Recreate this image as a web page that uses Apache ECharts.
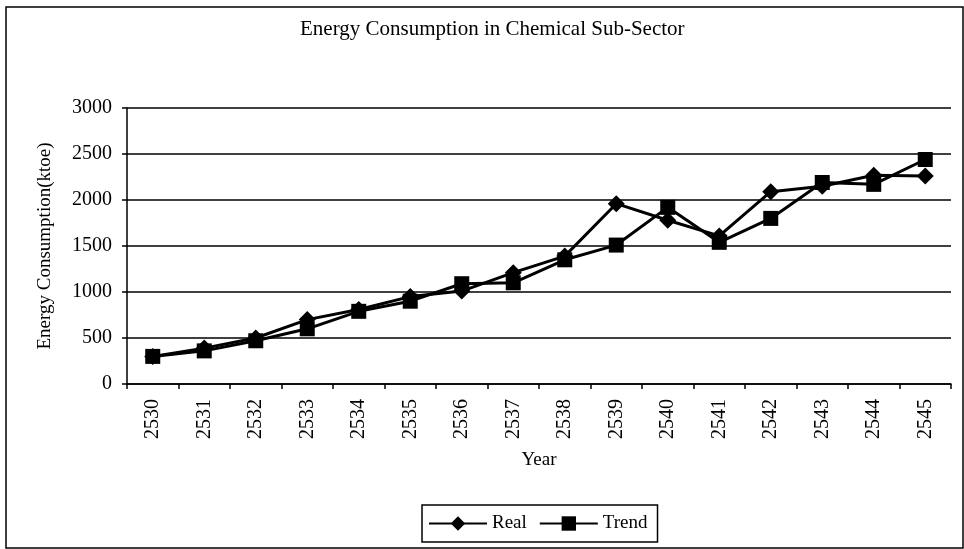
<!DOCTYPE html>
<html>
<head>
<meta charset="utf-8">
<style>
html,body{margin:0;padding:0;background:#fff;}
#chart{width:964px;height:549px;}
</style>
<script src="https://cdn.jsdelivr.net/npm/echarts@6/dist/echarts.min.js"></script>
</head>
<body>
<div id="chart"></div>
<script>
const years = ['2530','2531','2532','2533','2534','2535','2536','2537','2538','2539','2540','2541','2542','2543','2544','2545'];
const realValues = [300, 390, 500, 700, 810, 950, 1010, 1210, 1390, 1960, 1780, 1610, 2090, 2150, 2270, 2260];
const trendValues = [300, 360, 470, 600, 790, 900, 1090, 1100, 1350, 1510, 1920, 1540, 1800, 2190, 2170, 2440];
const titleText = 'Energy Consumption in Chemical Sub-Sector';
const yAxisName = 'Energy Consumption(ktoe)';
const xAxisName = 'Year';

const FONT = '"Liberation Serif", "Times New Roman", serif';
const chart = echarts.init(document.getElementById('chart'), null, {renderer: 'canvas'});
chart.setOption({
  backgroundColor: '#ffffff',
  animation: false,
  title: {
    text: titleText,
    left: 295,
    top: 14,
    textStyle: {fontFamily: FONT, fontSize: 21, fontWeight: 'normal', color: '#000'}
  },
  graphic: [{
    type: 'rect',
    shape: {x: 6, y: 7, width: 957, height: 541},
    style: {fill: 'none', stroke: '#000', lineWidth: 1.5},
    silent: true
  }],
  legend: {
    left: 422,
    top: 505,
    padding: [9, 10, 9, 6],
    itemWidth: 58,
    itemHeight: 18,
    itemGap: 12,
    borderColor: '#000',
    borderWidth: 1.5,
    textStyle: {fontFamily: FONT, fontSize: 19, color: '#000'},
    data: ['Real', 'Trend']
  },
  grid: {left: 127, top: 108, right: 13, bottom: 165, containLabel: false},
  xAxis: {
    type: 'category',
    data: years,
    boundaryGap: true,
    name: xAxisName,
    nameLocation: 'middle',
    nameGap: 67,
    nameTextStyle: {fontFamily: FONT, fontSize: 19, color: '#000', verticalAlign: 'top'},
    axisLine: {lineStyle: {color: '#000', width: 1.5}},
    axisTick: {show: true, alignWithLabel: false, length: 5, lineStyle: {color: '#000', width: 1.5}},
    axisLabel: {rotate: 90, margin: 15, fontFamily: FONT, fontSize: 20, color: '#000'},
    splitLine: {show: false}
  },
  yAxis: {
    type: 'value',
    min: 0,
    max: 3000,
    interval: 500,
    name: yAxisName,
    nameLocation: 'middle',
    nameGap: 72,
    nameTextStyle: {fontFamily: FONT, fontSize: 19, color: '#000'},
    axisLine: {show: true, lineStyle: {color: '#000', width: 1.5}},
    axisTick: {show: true, length: 5, lineStyle: {color: '#000', width: 1.5}},
    axisLabel: {margin: 15, fontFamily: FONT, fontSize: 20, color: '#000', formatter: function (v) { return String(v); }},
    splitLine: {show: true, lineStyle: {color: '#000', width: 1.5}}
  },
  series: [
    {
      name: 'Real',
      type: 'line',
      data: realValues,
      symbol: 'diamond',
      symbolSize: 17,
      lineStyle: {color: '#000', width: 3},
      itemStyle: {color: '#000'},
      z: 3
    },
    {
      name: 'Trend',
      type: 'line',
      data: trendValues,
      symbol: 'rect',
      symbolSize: 15,
      lineStyle: {color: '#000', width: 3},
      itemStyle: {color: '#000'},
      z: 2
    }
  ]
});
</script>
</body>
</html>
